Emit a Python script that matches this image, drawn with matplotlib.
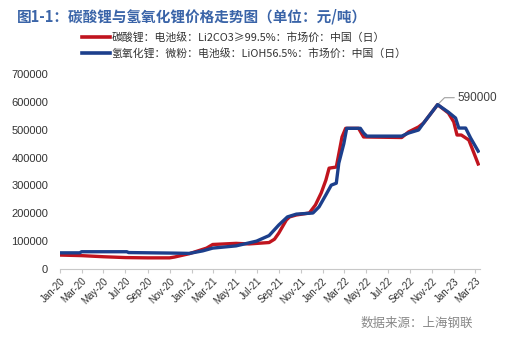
import matplotlib
matplotlib.use("Agg")
import matplotlib.pyplot as plt
import matplotlib.dates as mdates
import pandas as pd

plt.rcParams['font.family'] = ['Noto Sans CJK SC', 'DejaVu Sans']

# ---------------- price data (yuan / ton) ----------------
li2co3_dates = [
    "2020-01-01", "2020-03-01", "2020-05-01", "2020-07-01", "2020-09-01",
    "2020-11-01", "2020-11-15", "2020-12-26", "2021-02-12", "2021-03-01",
    "2021-05-05", "2021-06-10", "2021-08-05", "2021-08-20", "2021-09-01",
    "2021-09-22", "2021-10-01", "2021-10-20", "2021-11-25", "2021-12-12",
    "2021-12-28", "2022-01-10", "2022-01-19", "2022-02-08", "2022-02-24",
    "2022-03-06", "2022-04-11", "2022-04-25", "2022-08-09", "2022-08-28",
    "2022-09-25", "2022-10-09", "2022-11-17", "2022-12-17", "2023-01-01",
    "2023-01-10", "2023-01-22", "2023-02-12", "2023-02-25", "2023-03-10",
]
li2co3_price = [
    50000, 48000, 44000, 41000, 40000,
    40000, 43000, 55000, 75000, 88000,
    92000, 90000, 95000, 107000, 129000,
    176000, 187000, 194000, 201000, 230000,
    273000, 319000, 362000, 366000, 474000,
    505000, 505000, 474000, 472000, 492000,
    510000, 524000, 590000, 560000, 528000,
    481000, 481000, 463000, 420000, 377000,
]

lioh_dates = [
    "2020-01-01", "2020-02-25", "2020-03-01", "2020-07-05", "2020-07-10",
    "2020-11-15", "2020-12-26", "2021-02-01", "2021-03-01", "2021-05-05",
    "2021-07-01", "2021-07-15", "2021-08-05", "2021-09-01", "2021-09-25",
    "2021-10-20", "2021-12-05", "2021-12-22", "2022-01-10", "2022-01-25",
    "2022-02-08", "2022-02-15", "2022-03-01", "2022-03-09", "2022-04-16",
    "2022-04-25", "2022-05-04", "2022-08-09", "2022-08-28", "2022-09-25",
    "2022-10-09", "2022-11-17", "2022-12-17", "2023-01-06", "2023-01-15",
    "2023-02-03", "2023-02-17", "2023-03-10",
]
lioh_price = [
    58000, 58000, 62000, 62000, 59000,
    57000, 56000, 65000, 75000, 83000,
    100000, 108000, 120000, 158000, 187000,
    197000, 201000, 223000, 266000, 301000,
    308000, 380000, 450000, 505000, 505000,
    488000, 477000, 477000, 488000, 499000,
    524000, 590000, 563000, 542000, 506000,
    506000, 470000, 423000,
]

peak_date = "2022-11-17"
peak_value = 590000

li2co3_label = "碳酸锂：电池级：Li2CO3≥99.5%：市场价：中国（日）"
lioh_label = "氢氧化锂：微粉：电池级：LiOH56.5%：市场价：中国（日）"
title_text = "图1-1：碳酸锂与氢氧化锂价格走势图（单位：元/吨）"
source_text = "数据来源：上海钢联"

RED = "#C0141E"
BLUE = "#1C3F8C"
NUM_FONT = ["Liberation Sans", "DejaVu Sans"]

fig = plt.figure(figsize=(5.06, 3.39), dpi=100)
ax = fig.add_axes([0.1186, 0.2065, 0.83, 0.5752])

ax.plot(pd.to_datetime(li2co3_dates), li2co3_price, color=RED, lw=2.4,
        solid_joinstyle="round", label=li2co3_label, zorder=3)
ax.plot(pd.to_datetime(lioh_dates), lioh_price, color=BLUE, lw=2.4,
        solid_joinstyle="round", label=lioh_label, zorder=4)

ax.set_ylim(0, 700000)
ax.set_yticks(range(0, 700001, 100000))
ax.set_xlim(pd.Timestamp("2020-01-01"), pd.Timestamp("2023-03-15"))
ax.xaxis.set_major_locator(mdates.MonthLocator(bymonth=[1, 3, 5, 7, 9, 11]))
ax.xaxis.set_major_formatter(mdates.DateFormatter("%b-%y"))

for s in ["left", "right", "top"]:
    ax.spines[s].set_visible(False)
ax.spines["bottom"].set_color("#C8C8C8")
ax.tick_params(axis="y", length=0, labelsize=8, labelcolor="#333333", pad=8.5)
ax.tick_params(axis="x", length=3, color="#C8C8C8", labelsize=7,
               labelcolor="#333333", pad=2)
for lab in ax.get_yticklabels():
    lab.set_fontfamily(NUM_FONT)
for lab in ax.get_xticklabels():
    lab.set_rotation(45)
    lab.set_ha("right")
    lab.set_rotation_mode("anchor")
    lab.set_fontfamily(NUM_FONT)

# peak value callout
ax.annotate(f"{peak_value}", xy=(pd.Timestamp(peak_date), peak_value),
            xytext=(14, 5), textcoords="offset points", fontsize=8.5,
            color="#404040", va="center", ha="left", family=NUM_FONT,
            arrowprops=dict(arrowstyle="-", color="#A0A0A0", lw=0.8,
                            connectionstyle="angle,angleA=0,angleB=45,rad=0",
                            shrinkA=0, shrinkB=1))

fig.text(0.034, 0.95, title_text, fontsize=10.5, color="#3A64A8",
         fontweight="bold", va="center", ha="left")

leg = fig.legend(loc="upper left", bbox_to_anchor=(0.162, 0.905), frameon=False,
                 fontsize=7.8, handlelength=2.6, handletextpad=0.1,
                 labelspacing=0.45, borderaxespad=0, borderpad=0)
for t in leg.get_texts():
    t.set_color("#333333")
for h in leg.legend_handles:
    h.set_linewidth(2.6)

fig.text(0.935, 0.045, source_text, fontsize=9, color="#888888",
         ha="right", va="center")

fig.savefig("out.png", dpi=100)
